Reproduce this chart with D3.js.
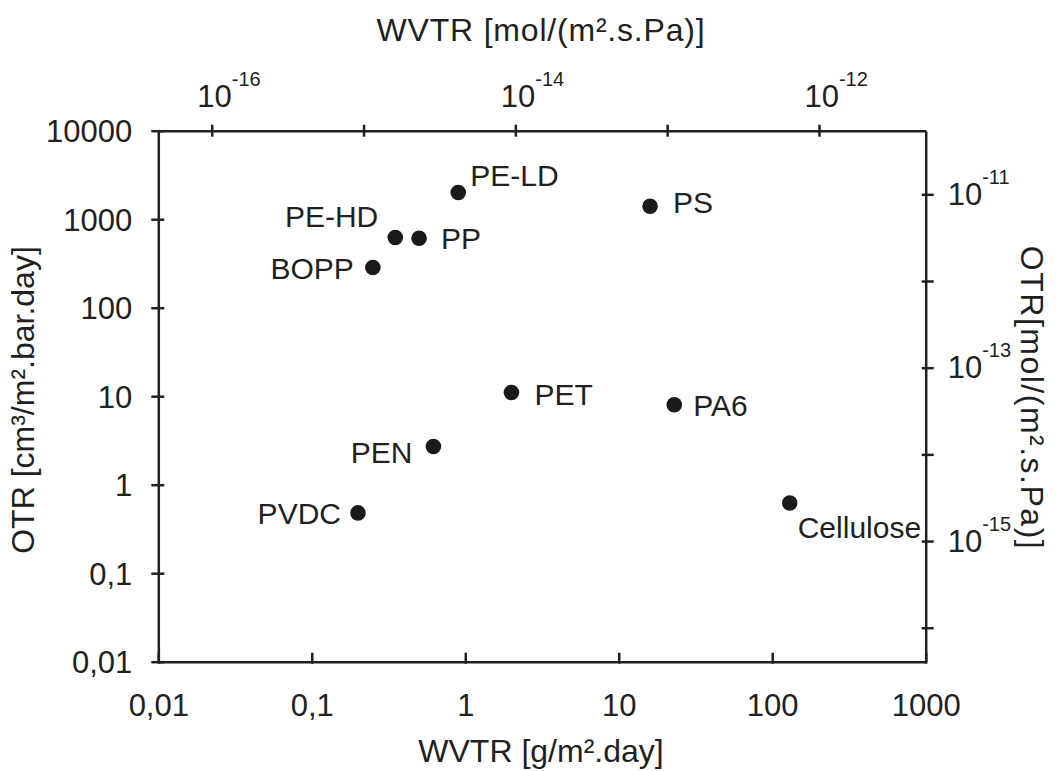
<!DOCTYPE html>
<html>
<head>
<meta charset="utf-8">
<script src="https://cdn.jsdelivr.net/npm/d3@7"></script>
<style>
  body { margin: 0; background: #fff; }
  text { font-family: Arial, "Liberation Sans", sans-serif; fill: #231f20; }
</style>
</head>
<body>
<div id="chart"></div>
<script>
// Werte
var materials = ["PE-LD", "PE-HD", "PP", "BOPP", "PS", "PET", "PA6", "PEN", "PVDC", "Cellulose"];
var wvtr = [0.9, 0.35, 0.5, 0.25, 16, 2, 23, 0.62, 0.2, 130];      // g/m².day
var otr  = [2000, 620, 610, 285, 1400, 11, 8, 2.7, 0.48, 0.62];    // cm³/m².bar.day

var bottomTicks  = [0.01, 0.1, 1, 10, 100, 1000];
var bottomLabels = ["0,01", "0,1", "1", "10", "100", "1000"];
var leftTicks    = [0.01, 0.1, 1, 10, 100, 1000, 10000];
var leftLabels   = ["0,01", "0,1", "1", "10", "100", "1000", "10000"];
var topExp       = [-16, -15, -14, -13, -12];
var topLabelled  = [-16, -14, -12];
var rightExp     = [-16, -15, -14, -13, -12, -11];
var rightLabelled = [-15, -13, -11];

// wo die Namen neben den Punkten stehen (dx, dy, anchor)
var labelPlace = {
  "PE-LD": [12, -7, "start"],
  "PE-HD": [-17, -11, "end"],
  "PP": [22, 11, "start"],
  "BOPP": [-19, 12, "end"],
  "PS": [23, 7, "start"],
  "PET": [23, 12, "start"],
  "PA6": [19, 11, "start"],
  "PEN": [-21, 16, "end"],
  "PVDC": [-17, 11, "end"],
  "Cellulose": [8, 35, "start"]
};

var W = 1059, H = 771;
var pLeft = 158.3, pRight = 925.7, pTop = 130.7, pBottom = 661.7;
var ink = "#231f20";

var svg = d3.select("#chart")
  .append("svg")
    .attr("width", W)
    .attr("height", H);

// Skalen
var x = d3.scaleLog().domain([0.01, 1000]).range([pLeft, pRight]);
var y = d3.scaleLog().domain([0.01, 10000]).range([pBottom, pTop]);
var xTop = d3.scaleLog().domain([Math.pow(10, -16.352), Math.pow(10, -11.297)]).range([pLeft, pRight]);
var yRight = d3.scaleLog().domain([Math.pow(10, -16.392), Math.pow(10, -10.266)]).range([pBottom, pTop]);

function styleAxis(g) {
  g.select(".domain").attr("stroke", ink).attr("stroke-width", 2.5);
  g.selectAll(".tick line").attr("stroke", ink).attr("stroke-width", 2.5);
  g.selectAll(".tick text").remove();
}

// unten
var gB = svg.append("g")
  .attr("transform", "translate(0," + pBottom + ")")
  .call(d3.axisBottom(x).tickValues(bottomTicks).tickSizeOuter(0))
  .call(styleAxis);
gB.selectAll(".tick line").attr("y1", 2).attr("y2", -9);
gB.selectAll(".tick").append("text")
  .text(function(d, i) { return bottomLabels[i]; })
  .attr("y", 716 - pBottom)
  .attr("text-anchor", "middle")
  .attr("font-size", 31);

// links
var gL = svg.append("g")
  .attr("transform", "translate(" + pLeft + ",0)")
  .call(d3.axisLeft(y).tickValues(leftTicks).tickSizeOuter(0))
  .call(styleAxis);
gL.selectAll(".tick line").attr("x1", 6).attr("x2", -7);
gL.selectAll(".tick").append("text")
  .text(function(d, i) { return leftLabels[i]; })
  .attr("x", -26)
  .attr("dy", "0.35em")
  .attr("text-anchor", "end")
  .attr("font-size", 31);

// 10 hoch n Beschriftung
function powLabel(sel, dx, yy) {
  sel.each(function(d) {
    var t = d3.select(this).append("text")
      .attr("x", dx)
      .attr("y", yy)
      .attr("text-anchor", "start")
      .attr("font-size", 31);
    t.append("tspan").text("10");
    t.append("tspan").text(Math.round(Math.log10(d)))
      .attr("font-size", 20)
      .attr("dy", -21);
  });
}

// oben
var gT = svg.append("g")
  .attr("transform", "translate(0," + pTop + ")")
  .call(d3.axisTop(xTop).tickValues(topExp.map(function(e) { return Math.pow(10, e); })).tickSizeOuter(0))
  .call(styleAxis);
gT.selectAll(".tick line").attr("y1", 6).attr("y2", -6);
gT.selectAll(".tick")
  .filter(function(d) { return topLabelled.indexOf(Math.round(Math.log10(d))) >= 0; })
  .call(powLabel, -15, 106.5 - pTop);

// rechts
var gR = svg.append("g")
  .attr("transform", "translate(" + pRight + ",0)")
  .call(d3.axisRight(yRight).tickValues(rightExp.map(function(e) { return Math.pow(10, e); })).tickSizeOuter(0))
  .call(styleAxis);
gR.selectAll(".tick line").attr("x1", -4).attr("x2", 8);
gR.selectAll(".tick")
  .filter(function(d) { return rightLabelled.indexOf(Math.round(Math.log10(d))) >= 0; })
  .call(powLabel, 22, 10);

// Achsentitel
svg.append("text")
  .attr("x", 541).attr("y", 762)
  .attr("text-anchor", "middle")
  .attr("font-size", 32)
  .text("WVTR [g/m².day]");

svg.append("text")
  .attr("x", 541).attr("y", 41)
  .attr("text-anchor", "middle")
  .attr("font-size", 32)
  .attr("letter-spacing", 0.8)
  .text("WVTR [mol/(m².s.Pa)]");

svg.append("text")
  .attr("transform", "translate(34,400) rotate(-90)")
  .attr("text-anchor", "middle")
  .attr("font-size", 32)
  .text("OTR [cm³/m².bar.day]");

svg.append("text")
  .attr("transform", "translate(1021,398) rotate(90)")
  .attr("text-anchor", "middle")
  .attr("font-size", 32)
  .attr("letter-spacing", 1.5)
  .text("OTR[mol/(m².s.Pa)]");

// Punkte
var pts = svg.selectAll(".pt")
  .data(materials)
  .enter()
  .append("g")
    .attr("class", "pt")
    .attr("transform", function(d, i) { return "translate(" + x(wvtr[i]) + "," + y(otr[i]) + ")"; });

pts.append("circle")
  .attr("r", 7.8)
  .attr("fill", "#1a1a1a");

pts.append("text")
  .attr("x", function(d) { return labelPlace[d][0]; })
  .attr("y", function(d) { return labelPlace[d][1]; })
  .attr("text-anchor", function(d) { return labelPlace[d][2]; })
  .attr("font-size", 30)
  .text(function(d) { return d; });
</script>
</body>
</html>
